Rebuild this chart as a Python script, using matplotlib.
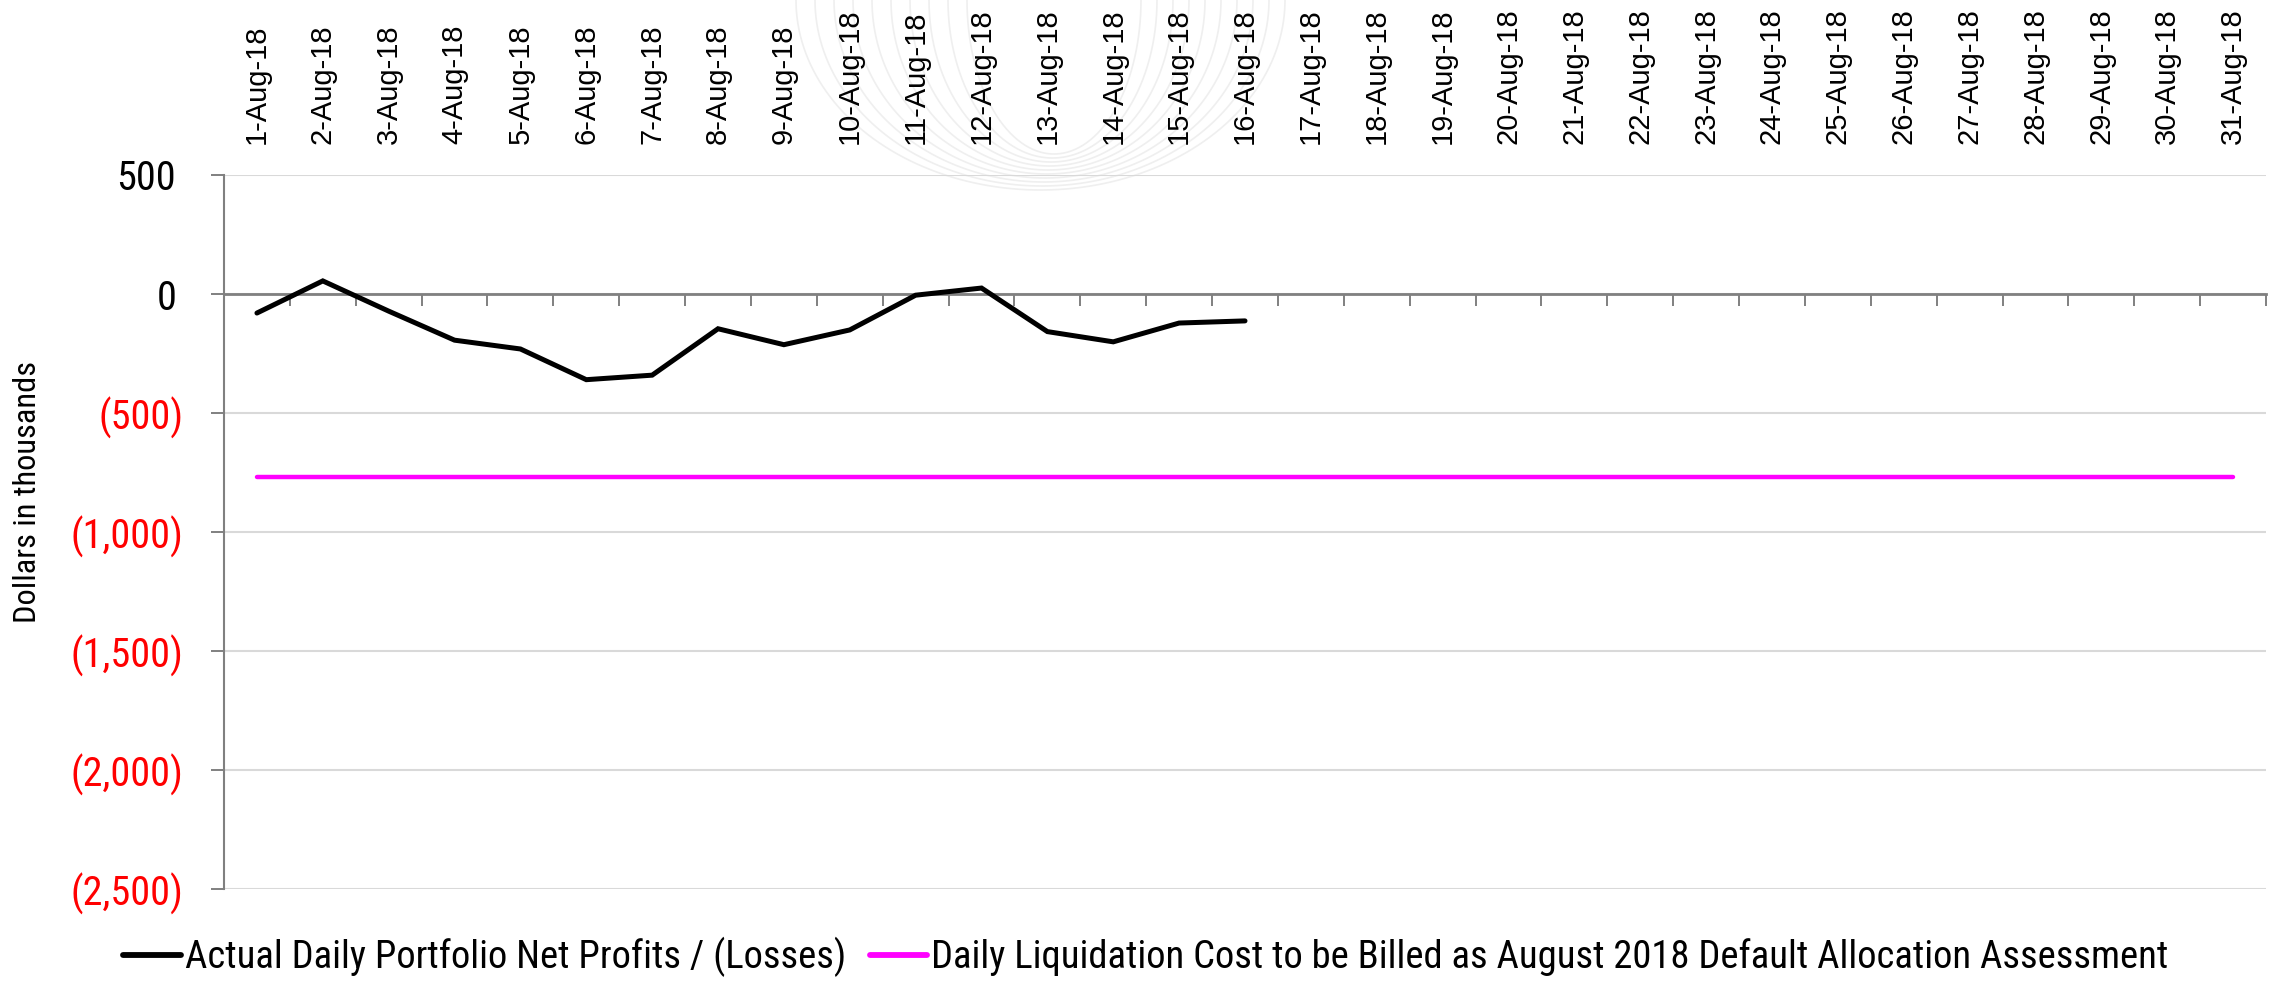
import matplotlib
matplotlib.use("Agg")
import matplotlib.pyplot as plt
from matplotlib import font_manager
from matplotlib.lines import Line2D
from matplotlib.ticker import FixedLocator
from matplotlib.transforms import ScaledTranslation
import numpy as np

# chart data (dollars in thousands)
days = list(range(1, 32))
date_labels = ["%d-Aug-18" % d for d in days]
pnl = [-80, 55, -72, -194, -231, -360, -341, -146, -213, -151, -5, 25, -158, -201, -122, -113]
liquidation_cost = -770
y_ticks = [500, 0, -500, -1000, -1500, -2000, -2500]
y_labels = ["500", "0", "(500)", "(1,000)", "(1,500)", "(2,000)", "(2,500)"]

pnl_label = "Actual Daily Portfolio Net Profits / (Losses)"
cost_label = "Daily Liquidation Cost to be Billed as August 2018 Default Allocation Assessment"

# the original uses Arial Narrow; fall back to a smaller regular face if absent
names = {f.name for f in font_manager.fontManager.ttflist}
narrow = None
for cand in ["Liberation Sans Narrow", "Arial Narrow", "Roboto Condensed", "Open Sans Condensed"]:
    if cand in names:
        narrow = cand
        break
if narrow is None:
    narrow, nscale = "Liberation Sans", 0.84
else:
    nscale = 1.0
wide = "Liberation Sans"
grey = "#808080"

W, H = 2280, 982
fig = plt.figure(figsize=(W / 100, H / 100), dpi=100)

# faint watermark arcs behind the top labels
for i in range(10):
    xl = 796 + 19 * i
    xr = 1285 - 16 * i
    depth = 190 - 4 * i
    t = np.linspace(np.pi, 2 * np.pi, 200)
    px = (xl + xr) / 2 + (xr - xl) / 2 * np.cos(t)
    py = -depth * np.sin(t)
    fig.add_artist(Line2D(px / W, 1 - py / H, transform=fig.transFigure,
                          color="#efefef", lw=1.2, zorder=0))

ax = fig.add_axes([224 / W, 1 - 889 / H, (2266 - 224) / W, (889 - 175) / H])
ax.patch.set_alpha(0)

x = np.arange(len(days))
ax.plot(x[:len(pnl)], pnl, color="black", lw=3.6, solid_capstyle="round",
        solid_joinstyle="miter", label=pnl_label, zorder=3)
ax.plot(x, [liquidation_cost] * len(days), color="#ff00ff", lw=3.2,
        solid_capstyle="round", label=cost_label, zorder=3)

ax.set_xlim(-0.5, len(days) - 0.5)
ax.set_ylim(-2500, 500)

ax.set_yticks(y_ticks)
ax.set_yticklabels(y_labels, fontname=narrow, fontsize=29 * nscale)
for lbl, v in zip(ax.get_yticklabels(), y_ticks):
    lbl.set_color("red" if v < 0 else "black")
ax.tick_params(axis="y", length=9.4, width=1.4, color=grey, pad=20)

ax.set_xticks(x)
ax.set_xticklabels(date_labels)
ax.xaxis.set_minor_locator(FixedLocator(x + 0.5))
ax.tick_params(axis="x", which="major", bottom=False, top=False,
               labelbottom=False, labeltop=True, pad=19, labelsize=21,
               labelrotation=90, labelfontfamily=wide)
ax.tick_params(axis="x", which="minor", bottom=True, top=False,
               length=8.6, width=1.4, color=grey, direction="out")

ax.yaxis.grid(True, color="#d9d9d9", lw=1.5)
ax.set_axisbelow(True)
for s in ["top", "right"]:
    ax.spines[s].set_visible(False)
ax.spines["left"].set_color(grey)
ax.spines["left"].set_linewidth(1.5)
ax.spines["bottom"].set_position(("data", 0))
ax.spines["bottom"].set_color(grey)
ax.spines["bottom"].set_linewidth(2)

# positive labels carry a trailing blank the width of ")"
shift = ScaledTranslation(-7 / 100, 0, fig.dpi_scale_trans)
for tick, v in zip(ax.yaxis.get_major_ticks(), y_ticks):
    if v >= 0:
        tick.label1.set_transform(tick.label1.get_transform() + shift)

fig.text(28 / W, 1 - 492 / H, "Dollars in thousands", rotation=90, ha="center",
         va="center", fontname=narrow, fontsize=23.3 * nscale)

fig.legend(loc="center", bbox_to_anchor=(1146 / W, 1 - 957 / H), ncol=2, frameon=False,
           prop={"family": narrow, "size": 27.8 * nscale}, handlelength=1.5, handletextpad=0.1,
           columnspacing=0.6, borderpad=0, borderaxespad=0)
for h in fig.legends[0].legend_handles:
    h.set_linewidth(4.2)

fig.savefig("out.png", dpi=100)
